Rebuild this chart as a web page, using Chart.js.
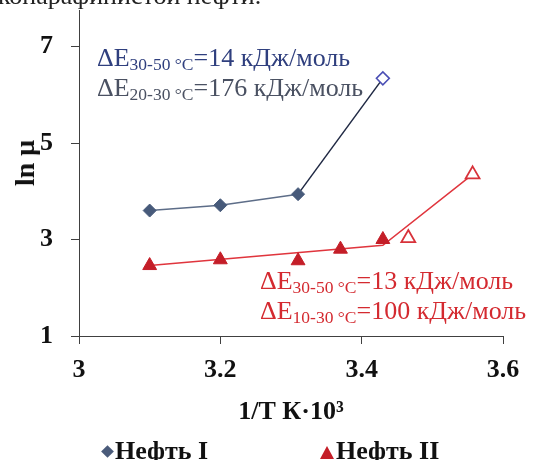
<!DOCTYPE html>
<html>
<head>
<meta charset="utf-8">
<script src="https://cdn.jsdelivr.net/npm/chart.js@4"></script>
<style>
  body { margin: 0; background: #fff; }
  #wrap { position: relative; width: 540px; height: 460px; overflow: hidden; font-family: 'Liberation Serif', 'DejaVu Serif', serif; }
  #wrap canvas { position: absolute; left: 0; top: 0; }
  .txt { position: absolute; white-space: nowrap; line-height: 1; }
  .note { font-size: 26px; }
  .note sub { font-size: 17.5px; vertical-align: baseline; position: relative; top: 4px; }
  .blue1 { color: #2f3f7e; }
  .blue2 { color: #4a5162; }
  .red { color: #d42a30; }
  .bold { font-weight: bold; color: #111; font-size: 26px; }
  .mk { position: absolute; }
</style>
</head>
<body>
<div id="wrap">
  <canvas id="chart" width="540" height="460"></canvas>
  <div class="txt" style="left:-2px; top:-17px; font-size:26px; color:#222;">копарафинистой нефти.</div>
  <div class="txt note blue1" style="left:97px; top:45px;">ΔE<sub>30-50 °C</sub>=14 кДж/моль</div>
  <div class="txt note blue2" style="left:97px; top:75px;">ΔE<sub>20-30 °C</sub>=176 кДж/моль</div>
  <div class="txt note red" style="left:260px; top:268px;">ΔE<sub>30-50 °C</sub>=13 кДж/моль</div>
  <div class="txt note red" style="left:260px; top:298px;">ΔE<sub>10-30 °C</sub>=100 кДж/моль</div>
  <div class="txt bold" style="left:25px; top:163px; font-size:28px; transform: translate(-50%, -50%) rotate(-90deg);">ln μ</div>
  <div class="mk" style="left:103px; top:447px; width:9px; height:9px; background:#4a5b7a; transform: rotate(45deg);"></div>
  <div class="txt bold" style="left:115px; top:438px;">Нефть I</div>
  <div class="mk" style="left:320px; top:446px; width:0; height:0; border-left:7.5px solid transparent; border-right:7.5px solid transparent; border-bottom:13px solid #c41e28;"></div>
  <div class="txt bold" style="left:336px; top:438px;">Нефть II</div>
</div>
<script>
const xTicks = [3, 3.2, 3.4, 3.6];
const yTicks = [1, 3, 5, 7];

// Нефть I, 30-50 °C and the low temperature branch
const oil1X = [3.10, 3.20, 3.31];
const oil1Y = [3.60, 3.71, 3.94];
const oil1LowX = [3.31, 3.43];
const oil1LowY = [3.94, 6.34];

// Нефть II
const oil2X = [3.10, 3.20, 3.31, 3.37, 3.43];
const oil2Y = [2.46, 2.58, 2.56, 2.80, 3.00];
const oil2OpenX = [3.466, 3.557];
const oil2OpenY = [3.03, 4.35];
const oil2LineX = [3.10, 3.43, 3.557];
const oil2LineY = [2.46, 2.88, 4.35];

const pts = (xs, ys) => xs.map((x, i) => ({ x: x, y: ys[i] }));

const tickFont = { family: 'Liberation Serif', size: 26, weight: 'bold' };

new Chart(document.getElementById('chart'), {
    type: 'scatter',
    data: {
        datasets: [
            {
                label: 'Нефть I',
                data: pts(oil1X, oil1Y),
                showLine: true,
                borderColor: '#5d6d88',
                borderWidth: 1.5,
                pointStyle: 'rectRot',
                pointRadius: 6.5,
                pointBackgroundColor: '#475a7a',
                pointBorderColor: '#475a7a',
                pointBorderWidth: 1
            },
            {
                label: 'Нефть II',
                data: pts(oil2X, oil2Y),
                showLine: false,
                pointStyle: 'triangle',
                pointRadius: 8,
                pointBackgroundColor: '#c41e28',
                pointBorderColor: '#c41e28',
                pointBorderWidth: 1
            },
            {
                label: 'Нефть II (10-30)',
                data: pts(oil2OpenX, oil2OpenY),
                showLine: false,
                pointStyle: 'triangle',
                pointRadius: 8,
                pointBackgroundColor: '#fff',
                pointBorderColor: '#d8323a',
                pointBorderWidth: 1.8
            },
            {
                label: 'Нефть I (20-30)',
                data: pts(oil1LowX, oil1LowY),
                showLine: true,
                borderColor: '#1f2843',
                borderWidth: 1.5,
                pointStyle: 'rectRot',
                pointRadius: [0, 6.5],
                pointBackgroundColor: '#fff',
                pointBorderColor: '#4b4fb5',
                pointBorderWidth: 1.5
            },
            {
                label: 'Нефть II линия',
                data: pts(oil2LineX, oil2LineY),
                showLine: true,
                borderColor: '#e0353d',
                borderWidth: 1.5,
                pointRadius: 0
            }
        ]
    },
    options: {
        responsive: false,
        animation: false,
        devicePixelRatio: 1,
        elements: { line: { tension: 0 } },
        layout: { padding: { top: 10, right: 37, left: 0, bottom: 0 } },
        plugins: {
            legend: { display: false },
            tooltip: { enabled: false }
        },
        scales: {
            x: {
                type: 'linear',
                min: 3,
                max: 3.6,
                afterBuildTicks: s => { s.ticks = xTicks.map(v => ({ value: v })); },
                afterFit: s => { s.height = 124; s.paddingLeft = 0; s.paddingRight = 0; },
                grid: { drawOnChartArea: false, drawTicks: true, tickLength: 8, color: '#404040' },
                border: { color: '#404040', width: 1 },
                ticks: { padding: 11, color: '#111', font: tickFont, callback: v => String(v) },
                title: {
                    display: true,
                    text: '1/T К·10³',
                    color: '#111',
                    font: tickFont,
                    padding: { top: 0, bottom: 32 }
                }
            },
            y: {
                type: 'linear',
                min: 1,
                max: 7.757,
                afterBuildTicks: s => { s.ticks = yTicks.map(v => ({ value: v })); },
                afterFit: s => { s.width = 79; s.paddingTop = 0; s.paddingBottom = 0; },
                grid: { drawOnChartArea: false, drawTicks: true, tickLength: 8, color: '#404040' },
                border: { color: '#404040', width: 1 },
                ticks: { padding: 18, color: '#111', font: tickFont, callback: v => String(v) }
            }
        }
    }
});
</script>
</body>
</html>
